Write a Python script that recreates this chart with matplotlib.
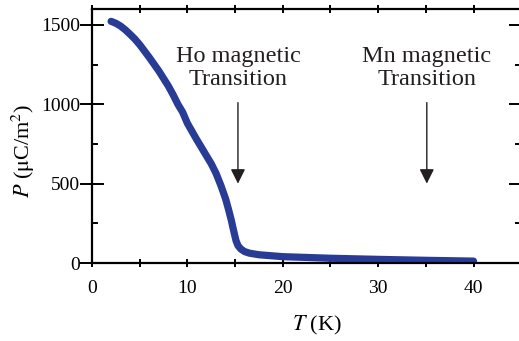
import matplotlib
matplotlib.use('Agg')
import matplotlib.pyplot as plt
from matplotlib.ticker import MultipleLocator

# temperature (K) and polarization (uC/m^2)
T = [2, 2.5, 3, 3.5, 4, 4.5, 5, 6, 7, 8, 8.5, 9, 9.5, 10, 11, 12, 12.5, 13,
     13.5, 14, 14.3, 14.6, 14.9, 15.1, 15.3, 15.6, 16, 16.5, 17.5, 20, 25,
     30, 35, 40]
P = [1522, 1510, 1492, 1468, 1440, 1410, 1375, 1295, 1210, 1115, 1060, 1000,
     950, 880, 775, 675, 625, 565, 490, 405, 340, 270, 190, 140, 110, 88, 72,
     62, 52, 40, 30, 23, 17, 12]

# annotation labels and the temperatures they point at
notes = ['Ho magnetic\nTransition', 'Mn magnetic\nTransition']
note_T = [15.3, 35.1]

plt.rcParams['font.family'] = ['Liberation Serif', 'DejaVu Serif']
plt.rcParams['mathtext.fontset'] = 'stix'

fig = plt.figure(figsize=(5.19, 3.41), dpi=100)
ax = fig.add_axes([0.1773, 0.2287, 0.827, 0.745])

ax.plot(T, P, color='#283c96', lw=5.2, solid_capstyle='round',
        solid_joinstyle='round')

for txt, t in zip(notes, note_T):
    ax.text(t, 1230, txt, ha='center', va='center', fontsize=17.5,
            linespacing=1.15, color='#231f20')
    ax.annotate('', xy=(t, 500), xytext=(t, 1010),
                arrowprops=dict(arrowstyle='-|>', color='#231f20', lw=1,
                                mutation_scale=22, shrinkA=0, shrinkB=0))

ax.set_xlim(0, 45)
ax.set_ylim(0, 1600)
ax.xaxis.set_major_locator(MultipleLocator(10))
ax.xaxis.set_minor_locator(MultipleLocator(5))
ax.yaxis.set_major_locator(MultipleLocator(500))
ax.yaxis.set_minor_locator(MultipleLocator(250))
ax.set_yticks([0, 500, 1000, 1500])
ax.tick_params(which='both', direction='in', top=True, right=True,
               labelsize=14, width=1.4, pad=4)
ax.tick_params(axis='y', which='major', direction='inout', length=17, pad=0)
ax.tick_params(axis='y', which='minor', length=4)
ax.tick_params(axis='x', which='both', direction='inout', length=6, pad=9)
for s in ax.spines.values():
    s.set_linewidth(1.6)

ax.set_xlabel('$T$ (K)', fontsize=16)
ax.xaxis.set_label_coords(0.524, -0.2)
ax.set_ylabel('$P$ ($\\mathrm{\\mu}$C/m$^2$)', fontsize=16)
ax.yaxis.set_label_coords(-0.128, 0.44)

fig.savefig('out.png', dpi=100)
